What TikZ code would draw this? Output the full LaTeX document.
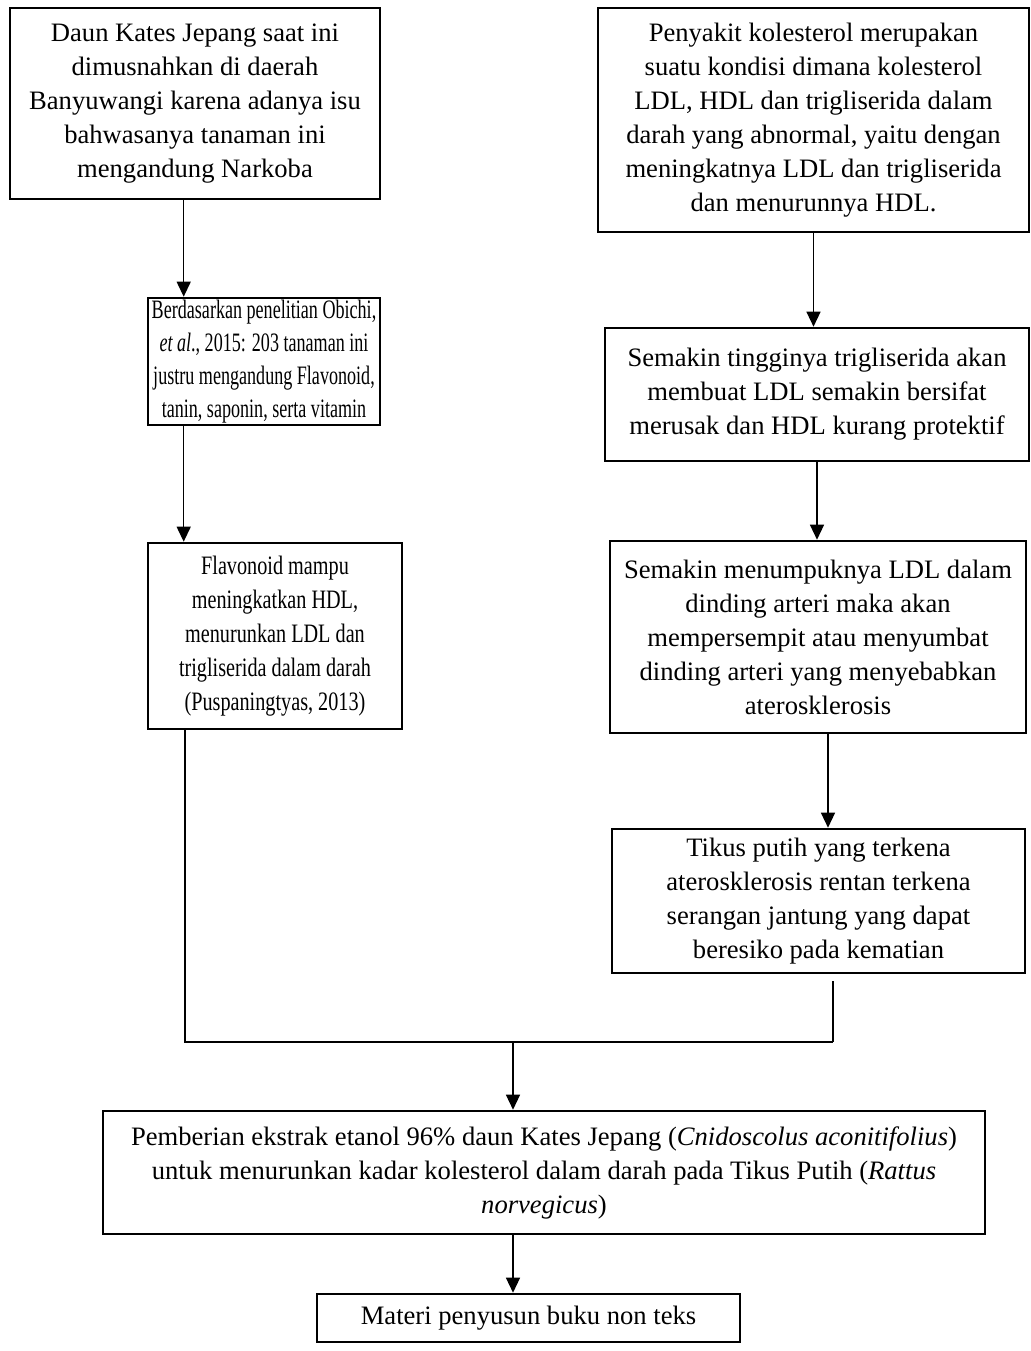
\documentclass[tikz,border=0pt]{standalone}
\usepackage{fontspec}
\setmainfont{Liberation Serif}
\newfontfamily\sempitA[FakeStretch=0.68]{Liberation Serif}
\newfontfamily\sempitB[FakeStretch=0.76]{Liberation Serif}
\usetikzlibrary{arrows.meta}

\tikzset{
  kotak/.style={draw, line width=2.6pt, align=center, inner sep=0pt,
    font=\fontsize{26.6}{34}\selectfont},
  panah/.style={-{Triangle[width=14pt,length=15pt]}, line width=1.3pt},
  garis/.style={line width=1.3pt}
}

\begin{document}
\begin{tikzpicture}[x=1pt, y=-1pt]
  \useasboundingbox (0,0) rectangle (1030,1351);

  % Kolom kiri
  \node[kotak, minimum width=370, minimum height=191] (kates) at (195,103.5)
    {Daun Kates Jepang saat ini\\dimusnahkan di daerah\\Banyuwangi karena adanya isu\\bahwasanya tanaman ini\\mengandung Narkoba};
  \node[kotak, minimum width=232, minimum height=127,
    font=\fontsize{26.6}{33}\sempitA] (obichi) at (264,361.5)
    {Berdasarkan penelitian Obichi,\\\textit{et al}., 2015: 203 tanaman ini\\justru mengandung Flavonoid,\\tanin, saponin, serta vitamin};
  \node[kotak, minimum width=254, minimum height=186,
    font=\fontsize{26.6}{34}\sempitB] (flavo) at (275,636)
    {Flavonoid mampu\\meningkatkan HDL,\\menurunkan LDL dan\\trigliserida dalam darah\\(Puspaningtyas, 2013)};

  % Kolom kanan
  \node[kotak, minimum width=431, minimum height=224] (kolesterol) at (813.5,120)
    {Penyakit kolesterol merupakan\\suatu kondisi dimana kolesterol\\LDL, HDL dan trigliserida dalam\\darah yang abnormal, yaitu dengan\\meningkatnya LDL dan trigliserida\\dan menurunnya HDL.};
  \node[kotak, minimum width=424, minimum height=133] (trigli) at (817,394.5)
    {Semakin tingginya trigliserida akan\\membuat LDL semakin bersifat\\merusak dan HDL kurang protektif};
  \node[kotak, minimum width=416, minimum height=192] (ldl) at (818,637)
    {Semakin menumpuknya LDL dalam\\dinding arteri maka akan\\mempersempit atau menyumbat\\dinding arteri yang menyebabkan\\aterosklerosis};
  \node[kotak, minimum width=413, minimum height=144] (tikus) at (818.5,901)
    {Tikus putih yang terkena\\aterosklerosis rentan terkena\\serangan jantung yang dapat\\beresiko pada kematian};

  % Kotak bawah
  \node[kotak, minimum width=882, minimum height=123] (pemberian) at (544,1172.5)
    {Pemberian ekstrak etanol 96\% daun Kates Jepang (\textit{Cnidoscolus aconitifolius})\\untuk menurunkan kadar kolesterol dalam darah pada Tikus Putih (\textit{Rattus}\\\textit{norvegicus})};
  \node[kotak, minimum width=423, minimum height=48] (materi) at (528.5,1318)
    {Materi penyusun buku non teks};

  % Panah kolom kiri
  \draw[panah] ([xshift=37pt]obichi.north west |- kates.south) -- ([xshift=37pt]obichi.north west);
  \draw[panah] ([xshift=37pt]flavo.north west |- obichi.south) -- ([xshift=37pt]flavo.north west);

  % Panah kolom kanan
  \draw[panah] (kolesterol.south) -- (kolesterol.south |- trigli.north);
  \draw[panah] (trigli.south) -- (trigli.south |- ldl.north);
  \draw[panah] ([xshift=10pt]ldl.south) -- ([xshift=10pt]ldl.south |- tikus.north);

  % Garis gabungan
  \coordinate (kiri) at (185,1042);
  \coordinate (kanan) at (833,1042);
  \coordinate (tengah) at (513,1042);
  \draw[garis] (flavo.south -| kiri) -- (kiri) -- (kanan);
  \draw[garis] ([yshift=-7pt]tikus.south -| kanan) -- (kanan);
  \draw[panah] (tengah) -- (tengah |- pemberian.north);
  \draw[panah] (pemberian.south -| tengah) -- (materi.north -| tengah);
\end{tikzpicture}
\end{document}
